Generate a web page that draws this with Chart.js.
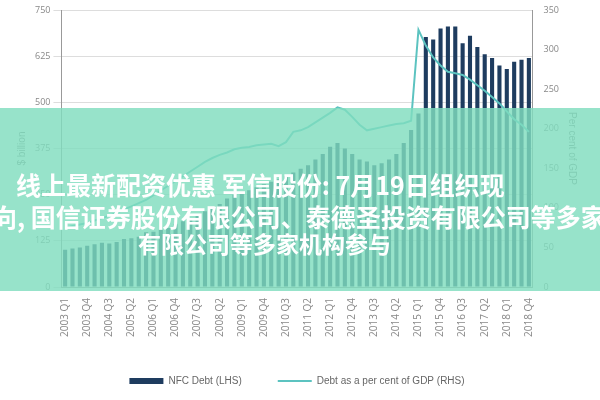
<!DOCTYPE html>
<html><head><meta charset="utf-8">
<script src="https://cdn.jsdelivr.net/npm/chart.js@4"></script>
<style>
body{margin:0;width:600px;height:400px;overflow:hidden;background:#fff;font-family:"Open Sans",sans-serif}
#wrap{position:relative;width:600px;height:400px}
#ov{position:absolute;left:0;top:108px;width:600px;height:183px;background:rgba(128,221,190,0.82);overflow:hidden}
.t{position:absolute;white-space:nowrap;color:#fff;font:bold 24px "Noto Sans CJK SC"}
</style></head><body>
<div id="wrap"><canvas id="c" width="600" height="400"></canvas>
<div id="ov">
<div class="t" style="top:58px;left:16px;font-size:25px">线上最新配资优惠 军信股份: 7月19日组织现</div>
<div class="t" style="top:90px;left:-8px;font-size:25px">向, 国信证券股份有限公司、泰德圣投资有限公司等多家</div>
<div class="t" style="top:118px;left:138px;font-size:23px">有限公司等多家机构参与</div>
</div></div>
<script>
const labels=[];for(let y=2003;y<=2018;y++)for(let q=1;q<=4;q++)labels.push(y+' Q'+q);
const debt=[101,104,107,112,116,120,118,122,130,132,136,148,150,155,160,170,178,185,195,205,215,225,240,250,255,262,270,278,285,292,300,310,320,330,345,360,380,390,375,360,345,340,330,335,345,360,390,425,470,677,670,700,705,705,660,680,650,630,620,600,590,610,615,620];
const pct=[75,77,79,81,84,87,90,94,98,102,106,110,116,122,128,134,140,146,152,158,163,167,170,174,176,177,179,180,181,178,183,196,198,202,208,214,220,227,224,215,205,198,200,202,204,206,207,210,325,305,290,280,272,270,268,262,255,248,240,232,222,212,205,196];
const gc='#888',tf={family:'Open Sans',size:9};
new Chart(document.getElementById('c'),{data:{labels,datasets:[
{type:'line',label:'Debt as a per cent of GDP (RHS)',data:pct,yAxisID:'y2',borderColor:'#5cc3c0',backgroundColor:'#5cc3c0',borderWidth:2,pointRadius:0,pointStyle:'line',tension:0},
{type:'bar',label:'NFC Debt (LHS)',data:debt,yAxisID:'y',backgroundColor:'#1e3c5f',pointStyle:'rect',categoryPercentage:0.9,barPercentage:0.62}]},
options:{responsive:false,animation:false,layout:{padding:{left:12,right:18,top:10,bottom:4}},
plugins:{legend:{position:'bottom',reverse:true,labels:{color:'#666',font:{size:10},usePointStyle:true,pointStyleWidth:34,boxHeight:6,padding:36}}},
scales:{x:{grid:{display:false},border:{color:'#999'},ticks:{color:gc,font:{family:'Open Sans',size:10},maxRotation:90,minRotation:90,autoSkip:false,callback:(v,i)=>i%3===0?labels[i]:null}},
y:{min:0,max:750,ticks:{stepSize:125,color:gc,font:tf},grid:{color:'#ddd'},border:{color:'#999'},title:{display:true,text:'$ billion',color:gc,font:{size:10}}},
y2:{position:'right',min:0,max:350,ticks:{stepSize:50,color:gc,font:tf},grid:{display:false},border:{color:'#999'},title:{display:true,text:'Per cent of GDP',color:gc,font:{size:10}}}}}});
</script></body></html>
